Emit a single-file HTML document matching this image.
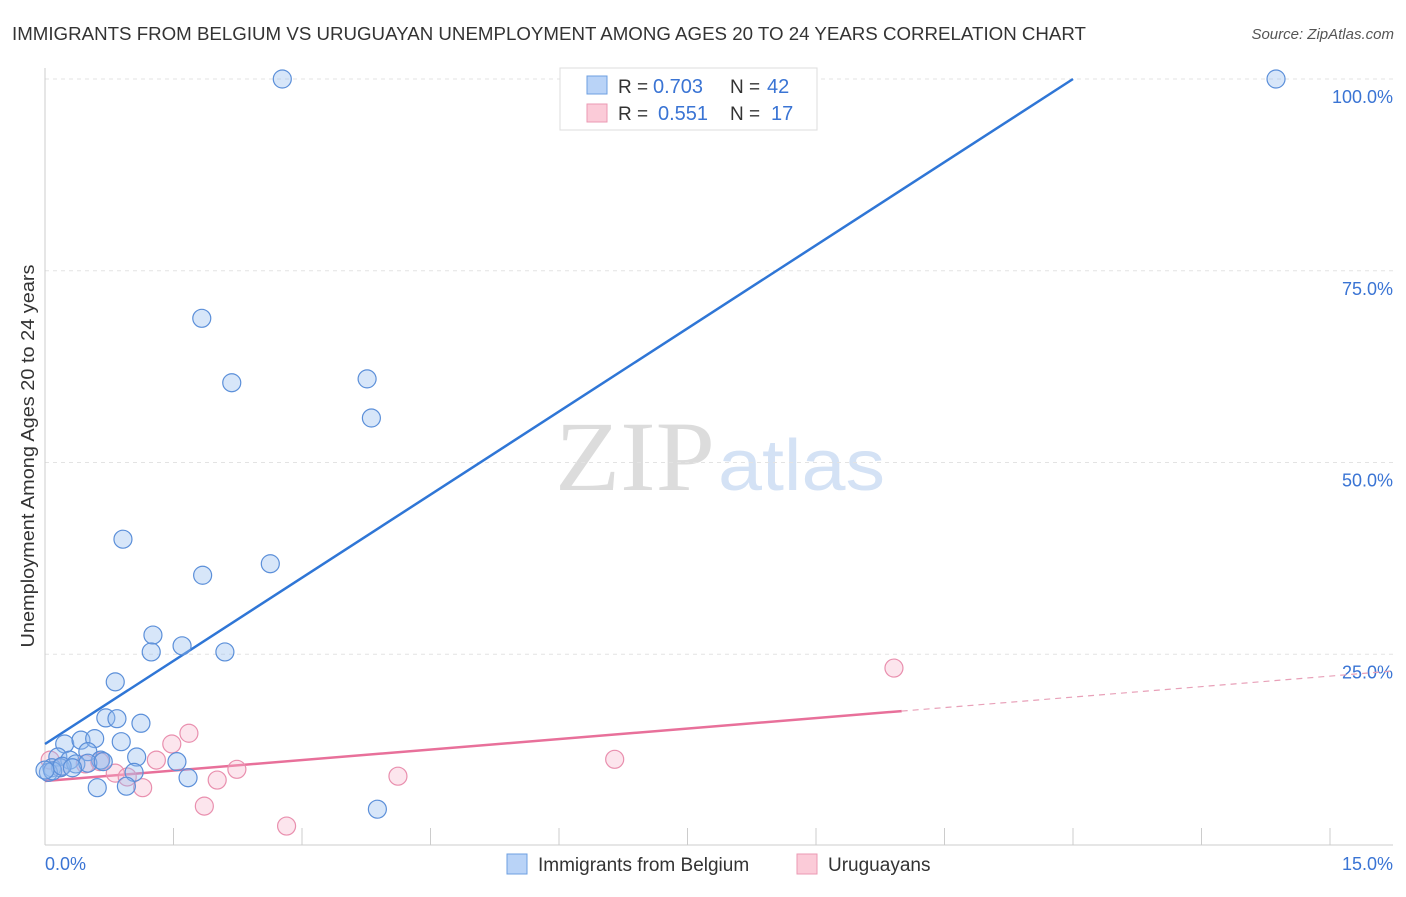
<!DOCTYPE html>
<html><head><meta charset="utf-8"><style>
body{margin:0;background:#fff;font-family:"Liberation Sans",sans-serif}
</style></head><body>
<svg id="chart" width="1406" height="892" font-family="Liberation Sans, sans-serif">
<text x="12" y="40" font-size="18" fill="#333" textLength="1074" lengthAdjust="spacingAndGlyphs">IMMIGRANTS FROM BELGIUM VS URUGUAYAN UNEMPLOYMENT AMONG AGES 20 TO 24 YEARS CORRELATION CHART</text>
<text x="1394" y="39" font-size="15" fill="#555" font-style="italic" text-anchor="end">Source: ZipAtlas.com</text>
<g><text x="555" y="490" font-size="100" fill="#dcdcdc" style="font-family:'Liberation Serif',serif" textLength="160" lengthAdjust="spacingAndGlyphs">ZIP</text><text x="718" y="490" font-size="72" fill="#d4e2f5" textLength="167" lengthAdjust="spacingAndGlyphs">atlas</text></g>
<g id="grid"></g><g id="axes"></g><g id="lines"></g><g id="pts"></g>
<text x="34" y="456" font-size="18" fill="#333" text-anchor="middle" textLength="383" lengthAdjust="spacingAndGlyphs" transform="rotate(-90 34 456)">Unemployment Among Ages 20 to 24 years</text>
<g>
<rect x="560" y="68" width="257" height="62" fill="#fff" stroke="#ddd"/>
<rect x="587" y="76" width="20" height="18" fill="#b9d3f7" stroke="#6d9fe0"/>
<rect x="587" y="104" width="20" height="18" fill="#fbcbd8" stroke="#eb9ab3"/>
<text x="618" y="93" font-size="19" fill="#333">R =</text>
<text x="653" y="93" font-size="20" fill="#3a74d4">0.703</text>
<text x="730" y="93" font-size="19" fill="#333">N =</text>
<text x="767" y="93" font-size="20" fill="#3a74d4">42</text>
<text x="618" y="120" font-size="19" fill="#333">R =</text>
<text x="658" y="120" font-size="20" fill="#3a74d4">0.551</text>
<text x="730" y="120" font-size="19" fill="#333">N =</text>
<text x="771" y="120" font-size="20" fill="#3a74d4">17</text>
</g>
<g>
<rect x="507" y="854" width="20" height="20" fill="#b9d3f7" stroke="#6d9fe0"/>
<text x="538" y="871" font-size="19" fill="#333">Immigrants from Belgium</text>
<rect x="797" y="854" width="20" height="20" fill="#fbcbd8" stroke="#eb9ab3"/>
<text x="828" y="871" font-size="19" fill="#333">Uruguayans</text>
</g>
</svg>
<script>
const blueX=[2.77,14.37,1.83,2.18,3.76,3.81,0.91,1.84,2.63,1.26,1.24,1.60,2.10,0.82,0.71,0.84,1.12,0.23,0.42,0.58,0.89,0.50,0.65,1.07,0.15,0.29,1.54,0.08,0.18,0.04,0.09,0.36,0.50,0.20,1.04,0.32,0.61,0.95,1.67,3.88,0.0,0.68];
const blueY=[100,100,68.8,60.4,60.9,55.8,40.0,35.3,36.8,27.5,25.3,26.1,25.3,21.4,16.7,16.6,16.0,13.3,13.8,14.0,13.6,12.3,11.2,11.6,11.6,11.2,11.0,10.2,10.2,9.6,9.8,10.7,10.8,10.4,9.6,10.2,7.6,7.8,8.9,4.8,9.9,11.0];
const pinkX=[9.91,6.65,1.68,1.48,1.30,0.82,0.96,1.14,1.86,2.01,2.24,2.82,4.12,0.06,0.18,0.47,0.64];
const pinkY=[23.2,11.3,14.7,13.3,11.2,9.5,9.0,7.6,5.2,8.6,10.0,2.6,9.1,11.2,10.2,10.7,11.0];
const yTicks=[25,50,75,100];
const xTickLabels=["0.0%","15.0%"];
const blueFit=[13.3,7.225];
const pinkFit=[8.47,0.912];
const NS="http://www.w3.org/2000/svg";
const sx=v=>45+v/15*1285, sy=v=>846-v*7.67;
function mk(p,t,a){const e=document.createElementNS(NS,t);for(const k in a)e.setAttribute(k,a[k]);p.appendChild(e);return e;}
const grid=document.getElementById('grid'),axes=document.getElementById('axes'),lines=document.getElementById('lines'),pts=document.getElementById('pts');
yTicks.forEach(v=>{
 const l=mk(grid,'line',{x1:45,x2:1393,y1:sy(v),y2:sy(v),stroke:'#e3e3e3','stroke-dasharray':'4,4'});
 
 
 const t=mk(grid,'text',{x:1393,y:sy(v)+24,'font-size':18,fill:'#3a74d4','text-anchor':'end'});
 t.textContent=v.toFixed(1)+'%';
 
 
});
mk(axes,'line',{x1:45,x2:45,y1:68,y2:845,stroke:'#ccc'});
mk(axes,'line',{x1:45,x2:1393,y1:845,y2:845,stroke:'#ccc'});
for(let i=1;i<=10;i++){const x=sx(i*1.5);const t=mk(axes,'line',{x1:x,x2:x,y1:828,y2:845,stroke:'#ccc'});}
let t0=mk(axes,'text',{x:45,y:870,'font-size':18,fill:'#3a74d4'});t0.textContent=xTickLabels[0];


let t1=mk(axes,'text',{x:1393,y:870,'font-size':18,fill:'#3a74d4','text-anchor':'end'});t1.textContent=xTickLabels[1];


const bxEnd=(100-blueFit[0])/blueFit[1];
let bl=mk(lines,'line',{x1:sx(0),y1:sy(blueFit[0]),x2:sx(bxEnd),y2:sy(100),stroke:'#2f76d6','stroke-width':2.5});


let pl=mk(lines,'line',{x1:sx(0),y1:sy(pinkFit[0]),x2:sx(10),y2:sy(pinkFit[0]+10*pinkFit[1]),stroke:'#e8709a','stroke-width':2.5});


let pd=mk(lines,'line',{x1:sx(10),y1:sy(pinkFit[0]+10*pinkFit[1]),x2:sx(15.73),y2:sy(pinkFit[0]+15.73*pinkFit[1]),stroke:'#e8a0b8','stroke-width':1.2,'stroke-dasharray':'6,5'});


pinkX.forEach((x,i)=>{const c=mk(pts,'circle',{cx:sx(x),cy:sy(pinkY[i]),r:9,fill:'rgba(246,180,202,0.35)',stroke:'#e98fae','stroke-width':1.2});
 
 });
blueX.forEach((x,i)=>{const c=mk(pts,'circle',{cx:sx(x),cy:sy(blueY[i]),r:9,fill:'rgba(150,190,240,0.38)',stroke:'#5b8fd9','stroke-width':1.2});
 
 });
</script>
</body></html>
